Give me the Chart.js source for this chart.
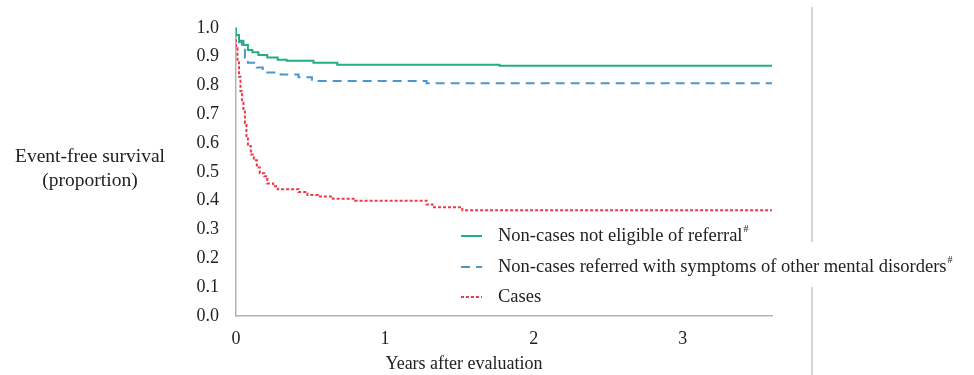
<!DOCTYPE html>
<html>
<head>
<meta charset="utf-8">
<script src="https://cdn.jsdelivr.net/npm/chart.js@4"></script>
<style>
  html, body { margin: 0; padding: 0; background: #fff; }
  #wrap { position: relative; width: 974px; height: 375px; }
</style>
</head>
<body>
<div id="wrap"><canvas id="survivalChart" width="974" height="375"></canvas></div>
<script>
// Kaplan-Meier style step curves
const seriesLabels = [
    'Non-cases not eligible of referral',
    'Non-cases referred with symptoms of other mental disorders',
    'Cases'
];
const seriesMarks = ['#', '#', ''];

const greenTimes  = [0, 0.02, 0.05, 0.08, 0.11, 0.15, 0.21, 0.28, 0.34, 0.52, 0.68, 1.77, 3.52, 3.6];
const greenValues = [1.0, 0.975, 0.955, 0.94, 0.923, 0.915, 0.906, 0.897, 0.889, 0.886, 0.879, 0.872, 0.868, 0.868];

const blueTimes  = [0, 0.02, 0.04, 0.06, 0.08, 0.14, 0.18, 0.3, 0.42, 0.51, 1.28, 1.94, 3.6];
const blueValues = [1.0, 0.97, 0.95, 0.936, 0.896, 0.879, 0.862, 0.845, 0.838, 0.828, 0.815, 0.808, 0.808];

const redTimes  = [0, 0.01, 0.02, 0.03, 0.04, 0.05, 0.06, 0.07, 0.08, 0.1, 0.12, 0.14, 0.16, 0.19, 0.21, 0.25, 0.28, 0.42, 0.48, 0.55, 0.65, 0.8, 1.28, 1.32, 1.52, 2.19, 3.6];
const redValues = [0.96, 0.93, 0.88, 0.83, 0.78, 0.74, 0.71, 0.67, 0.62, 0.59, 0.56, 0.54, 0.515, 0.495, 0.485, 0.46, 0.45, 0.44, 0.43, 0.42, 0.415, 0.407, 0.40, 0.387, 0.377, 0.367, 0.367];

const xTickValues = [0, 1, 2, 3];
const yTitleLines = ['Event-free survival', '(proportion)'];
const xTitle = 'Years after evaluation';

const SERIF = '"Liberation Serif", "DejaVu Serif", serif';

function toPoints(times, values) {
    return times.map((t, i) => ({ x: t, y: values[i] }));
}

// titles, legend and the page separator line
const decorations = {
    id: 'decorations',
    afterDraw(chart) {
        const ctx = chart.ctx;
        ctx.save();

        // y title, horizontal, left of the axis
        ctx.fillStyle = '#222';
        ctx.font = '19.5px ' + SERIF;
        ctx.textAlign = 'center';
        ctx.textBaseline = 'middle';
        ctx.fillText(yTitleLines[0], 90, 157);
        ctx.fillText(yTitleLines[1], 90, 181);

        // x title
        ctx.font = '18px ' + SERIF;
        ctx.fillText(xTitle, 464, 364);

        // legend
        const rows = [236, 267, 297];
        chart.data.datasets.forEach((ds, i) => {
            const y = rows[i];
            ctx.strokeStyle = ds.borderColor;
            ctx.lineWidth = 2;
            ctx.setLineDash(ds.borderDash || []);
            ctx.beginPath();
            ctx.moveTo(461, y);
            ctx.lineTo(482, y);
            ctx.stroke();
            ctx.setLineDash([]);

            ctx.fillStyle = '#222';
            ctx.font = '18.5px ' + SERIF;
            ctx.textAlign = 'left';
            ctx.textBaseline = 'middle';
            ctx.fillText(ds.label, 498, y);
            if (seriesMarks[i]) {
                const w = ctx.measureText(ds.label).width;
                ctx.font = '10px ' + SERIF;
                ctx.fillText(seriesMarks[i], 498 + w + 1, y - 7);
            }
        });

        // vertical separator on the right
        ctx.strokeStyle = '#c8c8c8';
        ctx.lineWidth = 1.5;
        ctx.beginPath();
        ctx.moveTo(812, 7);
        ctx.lineTo(812, 242);
        ctx.moveTo(812, 287);
        ctx.lineTo(812, 375);
        ctx.stroke();

        ctx.restore();
    }
};

new Chart(document.getElementById('survivalChart'), {
    type: 'line',
    data: {
        datasets: [
            {
                label: seriesLabels[0],
                data: toPoints(greenTimes, greenValues),
                borderColor: '#22b07a',
                borderWidth: 2,
                stepped: 'after',
                pointRadius: 0
            },
            {
                label: seriesLabels[1],
                data: toPoints(blueTimes, blueValues),
                borderColor: '#4a97cc',
                borderWidth: 2,
                borderDash: [9, 6],
                stepped: 'after',
                pointRadius: 0
            },
            {
                label: seriesLabels[2],
                data: toPoints(redTimes, redValues),
                borderColor: '#ec3b46',
                borderWidth: 2,
                borderDash: [3, 2],
                stepped: 'after',
                pointRadius: 0
            }
        ]
    },
    options: {
        responsive: false,
        animation: false,
        layout: { padding: { left: 0, top: 19, right: 202, bottom: 0 } },
        plugins: {
            legend: { display: false },
            tooltip: { enabled: false }
        },
        scales: {
            x: {
                type: 'linear',
                min: 0,
                max: 3.6,
                afterFit(scale) { scale.height = 59; },
                afterBuildTicks(scale) { scale.ticks = xTickValues.map(v => ({ value: v })); },
                grid: { display: false, drawTicks: false },
                border: { display: true, color: '#b4b4b4', width: 1.5 },
                ticks: {
                    padding: 12,
                    color: '#222',
                    font: { family: SERIF, size: 18 },
                    maxRotation: 0
                }
            },
            y: {
                min: 0,
                max: 1,
                afterFit(scale) { scale.width = 236; },
                grid: { display: false, drawTicks: false },
                border: { display: true, color: '#b4b4b4', width: 1.5 },
                ticks: {
                    stepSize: 0.1,
                    padding: 17,
                    color: '#222',
                    font: { family: SERIF, size: 18 },
                    callback: v => v.toFixed(1)
                }
            }
        }
    },
    plugins: [decorations]
});
</script>
</body>
</html>
